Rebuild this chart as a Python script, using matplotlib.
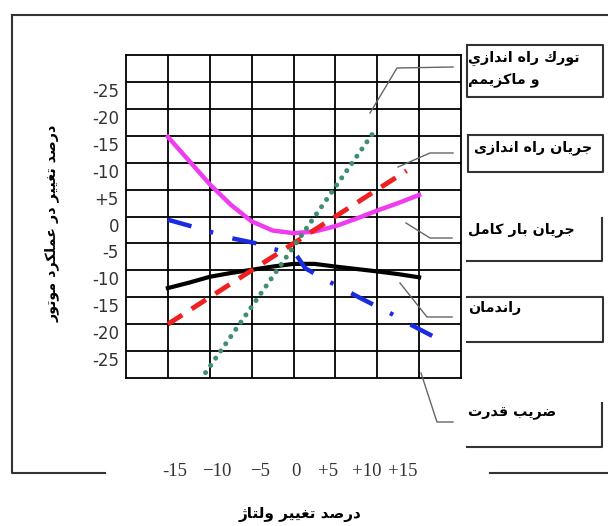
# نمودار تغییرات عملکرد موتور القایی نسبت به تغییر ولتاژ
import numpy as np
import matplotlib.pyplot as plt
import matplotlib.transforms as mtransforms

# --- داده ها (درصد) ---
x_torque = [-10.5, 9.5]
y_torque = [-29.0, 15.5]

x_start_current = [-15, 13.5]
y_start_current = [-20.0, 8.5]

x_full_current = [-15, -12.5, -10, -7.5, -5, -2.5, 0, 2.5, 5, 7.5, 10, 12.5, 15]
y_full_current = [14.8, 10.4, 6.0, 2.2, -0.9, -2.6, -3.1, -2.8, -1.8, -0.4, 1.1, 2.5, 4.0]

x_eff = [-15, -12.5, -10, -7.5, -5, -2.5, 0, 2.5, 5, 7.5, 10, 12.5, 15]
y_eff = [-13.3, -12.3, -11.2, -10.5, -9.9, -9.3, -8.8, -8.8, -9.3, -9.75, -10.2, -10.7, -11.3]

x_pf = [-15, -11.3, -7.5, -4.4, -2.0, 0.4, 1.4, 3.5, 5.5, 7.8, 11.6, 14, 18.2]
y_pf = [-0.6, -2.2, -4.0, -5.0, -6.2, -7.3, -9.6, -11.5, -13.1, -15, -18, -20.1, -23.5]

y_ticks = [25, 20, 15, 10, 5, 0, -5, -10, -15, -20, -25]
y_tick_labels = ["-25", "-20", "-15", "-10", "+5", "0", "-5", "-10", "-15", "-20", "-25"]
x_tick_labels = ["-15", "\u221210", "\u22125", "0", "+5", "+10", "+15"]

labels = ["تورك راه اندازي", "و ماكزيمم", "جريان راه اندازى",
          "جريان بار كامل", "راندمان", "ضريب قدرت"]
y_title = "درصد تغيير در عملكرد موتور"
x_title = "درصد تغيير ولتاژ"

# شکل دادن حروف فارسی (matplotlib اتصال حروف را انجام نمی دهد)
FORMS = {
    'ا': (0xFE8D, 0xFE8E, None, None),
    'ب': (0xFE8F, 0xFE90, 0xFE91, 0xFE92),
    'ت': (0xFE95, 0xFE96, 0xFE97, 0xFE98),
    'ج': (0xFE9D, 0xFE9E, 0xFE9F, 0xFEA0),
    'د': (0xFEA9, 0xFEAA, None, None),
    'ر': (0xFEAD, 0xFEAE, None, None),
    'ز': (0xFEAF, 0xFEB0, None, None),
    'ژ': (0xFB8A, 0xFB8B, None, None),
    'ص': (0xFEB9, 0xFEBA, 0xFEBB, 0xFEBC),
    'ض': (0xFEBD, 0xFEBE, 0xFEBF, 0xFEC0),
    'ع': (0xFEC9, 0xFECA, 0xFECB, 0xFECC),
    'غ': (0xFECD, 0xFECE, 0xFECF, 0xFED0),
    'ق': (0xFED5, 0xFED6, 0xFED7, 0xFED8),
    'ك': (0xFED9, 0xFEDA, 0xFEDB, 0xFEDC),
    'ل': (0xFEDD, 0xFEDE, 0xFEDF, 0xFEE0),
    'م': (0xFEE1, 0xFEE2, 0xFEE3, 0xFEE4),
    'ن': (0xFEE5, 0xFEE6, 0xFEE7, 0xFEE8),
    'ه': (0xFEE9, 0xFEEA, 0xFEEB, 0xFEEC),
    'و': (0xFEED, 0xFEEE, None, None),
    'ى': (0xFEEF, 0xFEF0, None, None),
    'ي': (0xFEF1, 0xFEF2, 0xFEF3, 0xFEF4),
}


def shape(text):
    out = []
    for i, ch in enumerate(text):
        if ch not in FORMS:
            out.append(ch)
            continue
        iso, fin, ini, med = FORMS[ch]
        prev = text[i - 1] if i > 0 else ''
        nxt = text[i + 1] if i + 1 < len(text) else ''
        join_prev = prev in FORMS and FORMS[prev][2] is not None
        join_next = ini is not None and nxt in FORMS
        if join_prev and join_next:
            c = med
        elif join_prev:
            c = fin
        elif join_next:
            c = ini
        else:
            c = iso
        out.append(chr(c))
    return ''.join(out[::-1])


W, H = 608, 526
fig = plt.figure(figsize=(W / 100, H / 100), dpi=100)

# محور اصلی (شبکه)
ax = fig.add_axes([126 / W, 1 - 378 / H, (461 - 126) / W, (378 - 55) / H])
ax.set_xlim(-20, 20)
ax.set_ylim(-30, 30)
for v in np.arange(-15, 16, 5):
    ax.axvline(v, color='black', lw=1.3, zorder=1)
for v in np.arange(-25, 26, 5):
    ax.axhline(v, color='black', lw=1.3, zorder=1)
for s in ax.spines.values():
    s.set_linewidth(1.3)
ax.set_xticks([])
ax.set_yticks(y_ticks)
ax.set_yticklabels(y_tick_labels, fontsize=12, color='#333333', family='DejaVu Sans')
ax.tick_params(which='both', length=0, pad=5)
off = mtransforms.ScaledTranslation(0, -8 / 100, fig.dpi_scale_trans)
for lbl in ax.get_yticklabels():
    lbl.set_transform(lbl.get_transform() + off)

ax.plot(x_full_current, y_full_current, color='#ee3cee', lw=3.2, zorder=3)
ax.plot(x_eff, y_eff, color='black', lw=3, zorder=3)
ax.plot(x_start_current, y_start_current, color='#ee2020', lw=3.5,
        linestyle=(0, (3.5, 2.3)), zorder=4)
ax.plot(x_torque, y_torque, color='#3d8f6f', lw=3.6,
        linestyle=(0, (0.01, 1.75)), dash_capstyle='round', zorder=4)
ax.plot(x_pf, y_pf, color='#1a2be0', lw=3.2, dash_capstyle='butt',
        linestyle=(0, (5.5, 4.3, 0.8, 4.5)), zorder=4)

# لایه توضیحات به مختصات پیکسل
ov = fig.add_axes([0, 0, 1, 1])
ov.set_xlim(0, W)
ov.set_ylim(H, 0)
ov.axis('off')

frame = dict(color='#333333', lw=1.5)
ov.plot([12, W], [15, 15], **frame)
ov.plot([12, 12, 105], [15, 473, 473], **frame)
ov.plot([490, W], [473, 473], **frame)

# کادر توضیحات
ov.plot([467, 603, 603, 467, 467], [45, 45, 97, 97, 45], **frame)
ov.plot([468, 603, 603, 468, 468], [135, 135, 172, 172, 135], **frame)
ov.plot([602, 602, 467], [218, 261, 261], **frame)
ov.plot([467, 603, 603, 467], [297, 297, 342, 342], **frame)
ov.plot([602, 602, 467], [403, 447, 447], **frame)

lead = dict(color='#666666', lw=1.0)
ov.plot([370, 397, 453], [113, 68, 67], **lead)
ov.plot([398, 430, 453], [167, 153, 153], **lead)
ov.plot([406, 430, 452], [223, 238, 238], **lead)
ov.plot([400, 427, 452], [283, 317, 317], **lead)
ov.plot([421, 437, 453], [373, 422, 422], **lead)

tk = dict(fontsize=10.3, fontweight='bold', family='DejaVu Sans', color='black')
ov.text(468, 58, shape(labels[0]), ha='left', va='center', **tk)
ov.text(468, 80, shape(labels[1]), ha='left', va='center', **tk)
ov.text(592, 148, shape(labels[2]), ha='right', va='center', **tk)
ov.text(468, 230, shape(labels[3]), ha='left', va='center', **tk)
ov.text(468, 308, shape(labels[4]), ha='left', va='center', **tk)
ov.text(468, 413, shape(labels[5]), ha='left', va='center', **tk)

ov.text(52, 223, shape(y_title), rotation=90, ha='center', va='center', **tk)
ov.text(300, 515, shape(x_title), ha='center', va='center',
        fontsize=11, fontweight='bold', family='DejaVu Sans', color='black')

xlab_px = [175, 217, 260, 296, 328, 367, 403]
for px, t in zip(xlab_px, x_tick_labels):
    ov.text(px, 471, t, ha='center', va='center', fontsize=13.5,
            family='Liberation Serif', color='#333333')

fig.savefig('out.png', dpi=100)
